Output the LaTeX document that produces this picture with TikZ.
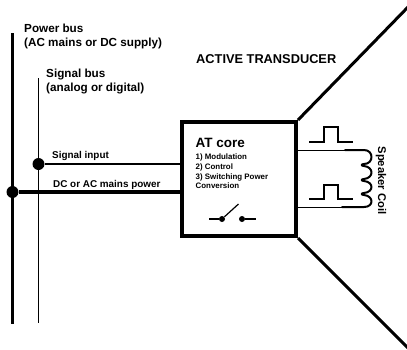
\documentclass[tikz,border=0pt]{standalone}
\usepackage{fontspec}
\setmainfont{Liberation Sans}
\usetikzlibrary{calc}
\tikzset{
  px/.style={x=1pt,y=-1pt},
  thickln/.style={line width=3.4pt},
  coneln/.style={line width=3pt},
  midln/.style={line width=2pt},
  thinln/.style={line width=1pt},
  lab/.style={inner sep=0pt,anchor=west,font=\bfseries\fontsize{11.7}{13}\selectfont},
  small/.style={inner sep=0pt,anchor=west,font=\bfseries\fontsize{9.9}{10}\selectfont},
  tiny/.style={inner sep=0pt,anchor=west,font=\bfseries\fontsize{7.9}{9}\selectfont},
  dot/.style={circle,fill=black,inner sep=0pt,minimum size=12pt},
  sdot/.style={circle,fill=black,inner sep=0pt,minimum size=6pt},
}
\begin{document}
\begin{tikzpicture}[px]
\useasboundingbox (0,0) rectangle (407,349);
% buses
\coordinate (ptop) at (12.5,33);
\coordinate (pbot) at (12.5,324);
\coordinate (stop) at (38.5,78);
\coordinate (sbot) at (38.5,323);
\draw[thickln] (ptop) -- (pbot);
\draw[thinln] (stop) -- (sbot);
\node[dot] (sj) at (38.5,164) {};
\node[dot] (pj) at (12.5,192) {};
% core
\node[draw,line width=4pt,minimum width=114pt,minimum height=114pt,inner sep=0pt] (core) at (239,179) {};
\draw[midln] (sj) -- (sj -| core.west);
\draw[thickln] (pj) -- (pj -| core.west);
% cone
\coordinate (ct) at (409,6);
\coordinate (cb) at (409,349);
\draw[coneln] (core.north east) -- (ct);
\draw[coneln] (core.south east) -- (cb);
% labels
\node[lab] (l1) at (24,28) {Power bus};
\node[lab] (l2) at (24,43) {(AC mains or DC supply)};
\node[lab] (l3) at (46,74) {Signal bus};
\node[lab] (l4) at (46,88) {(analog or digital)};
\node[lab,font=\bfseries\fontsize{12.8}{13}\selectfont] (l5) at (196,59) {ACTIVE TRANSDUCER};
\node[small] (l6) at (52,155.5) {Signal input};
\node[small] (l7) at (53,185) {DC or AC mains power};
\node[inner sep=0pt,anchor=west,font=\bfseries\fontsize{13.5}{15}\selectfont] (l8) at (195.5,143) {AT core};
\node[tiny] at (195.5,157) {1) Modulation};
\node[tiny] at (195.5,167) {2) Control};
\node[tiny] at (195.5,177.5) {3) Switching Power};
\node[tiny] at (195.5,186) {Conversion};
% switch
\node[sdot] (s1) at (222,219) {};
\node[sdot] (s2) at (242,219) {};
\coordinate (s1l) at (209,219);
\coordinate (s2r) at (256,219);
\coordinate (sarm) at (238.5,204);
\draw[line width=1.2pt] (s1l) -- (s1);
\draw[line width=1.2pt] (s2) -- (s2r);
\draw[line width=1.2pt] (s1) -- (sarm);
% coil
\coordinate (ca) at (296,150);
\coordinate (cc) at (296,207);
\coordinate (cs) at (345,150);
\coordinate (ce) at (342,207);
\draw[line width=1pt] (ca) -- (cs);
\draw[line width=1pt] (cc) -- (ce);
\draw[midln,line cap=round,line join=round] (cs) -- (364,150)
  .. controls (374,150) and (374,164) .. (364,164)
  .. controls (361,164) and (361,166) .. (364,166)
  .. controls (374,167) and (374,178) .. (364,179)
  .. controls (361,179) and (361,181) .. (364,181)
  .. controls (374,182) and (374,192) .. (364,193)
  .. controls (361,193) and (361,195) .. (364,195)
  .. controls (374,196) and (374,207) .. (364,207) -- (ce);
% pulses
\draw[line width=1.1pt] (309,142) -- (324,142) -- (324,127) -- (338,127) -- (338,142) -- (353,142);
\draw[line width=1.1pt] (309,199) -- (324,199) -- (324,185) -- (338,185) -- (338,199) -- (353,199);
\node[inner sep=0pt,rotate=-90,font=\bfseries\fontsize{11.2}{12}\selectfont] (l9) at (381,180.5) {Speaker Coil};
\end{tikzpicture}
\end{document}
